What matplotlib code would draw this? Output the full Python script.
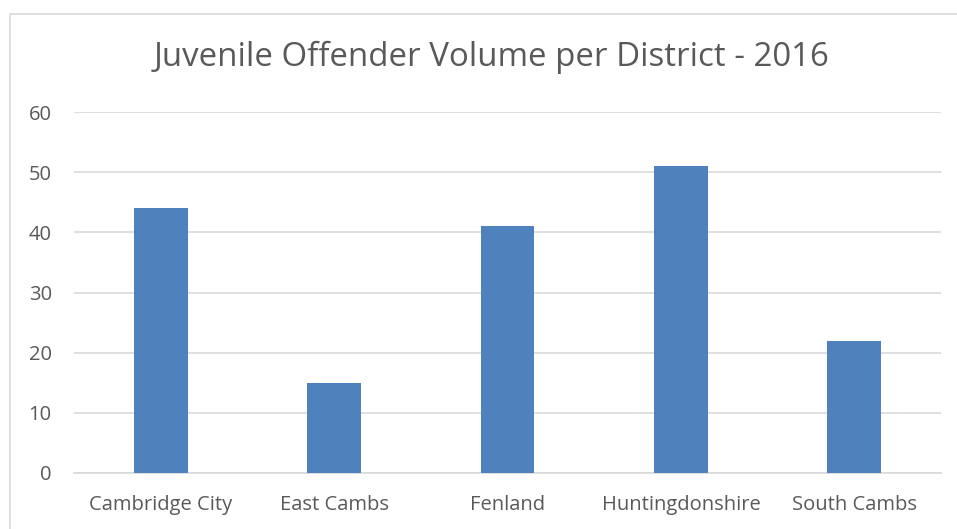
import matplotlib.pyplot as plt
from matplotlib.patches import Rectangle

districts = ['Cambridge City', 'East Cambs', 'Fenland', 'Huntingdonshire', 'South Cambs']
offenders = [44, 15, 41, 51, 22]
yticks = [0, 10, 20, 30, 40, 50, 60]

plt.rcParams['font.family'] = ['Open Sans', 'DejaVu Sans']
text_col = '#595959'
grid_col = '#D9D9D9'

W, H = 957, 529
fig = plt.figure(figsize=(W / 100, H / 100), dpi=100)

# chart frame (only left and top edges visible in the crop)
fig.patches.append(Rectangle((10 / W, -0.1), 1.2, 1.1 - 14 / H,
                             transform=fig.transFigure, fill=False,
                             edgecolor=grid_col, linewidth=1.2))

ax = fig.add_axes([74 / W, 56 / H, (941 - 74) / W, (473 - 112) / H])
ax.bar(range(len(districts)), offenders, width=0.31, color='#4F81BD', zorder=3)

ax.set_xlim(-0.5, len(districts) - 0.5)
ax.set_ylim(0, 60)
ax.set_yticks(yticks)
ax.set_xticks(range(len(districts)))
ax.set_xticklabels(districts)
ax.yaxis.grid(True, color=grid_col, linewidth=1.2, zorder=0)
ax.tick_params(length=0, labelsize=14.5, colors=text_col)
ax.tick_params(axis='x', pad=16)
ax.tick_params(axis='y', pad=16)
for side in ['top', 'right', 'left']:
    ax.spines[side].set_visible(False)
ax.spines['bottom'].set_color(grid_col)
ax.spines['bottom'].set_linewidth(1.2)

fig.text(492 / W, 1 - 57 / H, 'Juvenile Offender Volume per District - 2016',
         ha='center', va='center', fontsize=23.8, color=text_col)

fig.savefig('out.png', dpi=100)
